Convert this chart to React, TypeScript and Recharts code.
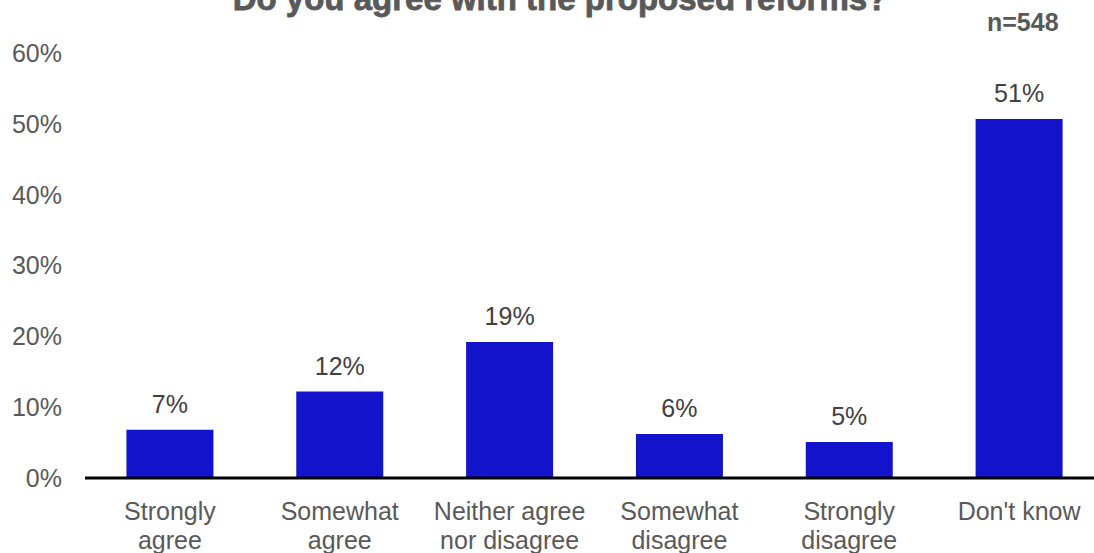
import React from "react";
import { BarChart, Bar, XAxis, YAxis, LabelList } from "recharts";

const categories = [
  "Strongly\nagree",
  "Somewhat\nagree",
  "Neither agree\nnor disagree",
  "Somewhat\ndisagree",
  "Strongly\ndisagree",
  "Don't know",
];
const shares = [6.8, 12.2, 19.2, 6.2, 5.1, 50.7];
const yTicks = [0, 10, 20, 30, 40, 50, 60];

const title = "Do you agree with the proposed reforms?";
const sampleNote = "n=548";

const rows = categories.map((name, i) => ({ name, value: shares[i] }));

const FONT = "'Liberation Sans', Arial, sans-serif";

function CategoryTick(props: any) {
  const { x, y, payload } = props;
  const lines = String(payload.value).split("\n");
  return (
    <text x={x} y={y} textAnchor="middle" fill="#595959" fontSize={25} fontFamily={FONT}>
      {lines.map((line, i) => (
        <tspan key={i} x={x} y={y + 34 + i * 29}>
          {line}
        </tspan>
      ))}
    </text>
  );
}

export default function App() {
  return (
    <div style={{ position: "relative", width: 1094, height: 553, background: "#fff", overflow: "hidden" }}>
      <style>{"body{margin:0}"}</style>
      <BarChart
        width={1094}
        height={553}
        data={rows}
        margin={{ top: 53, right: -10, bottom: 0, left: 0 }}
        barCategoryGap="24.4%"
      >
        <YAxis
          width={85}
          domain={[0, 60]}
          ticks={yTicks}
          tickFormatter={(v: number) => `${v}%`}
          axisLine={false}
          tickLine={false}
          tickSize={0}
          tickMargin={23}
          tick={{ fill: "#595959", fontSize: 25, fontFamily: FONT }}
        />
        <XAxis
          dataKey="name"
          height={75}
          axisLine={{ stroke: "#000", strokeWidth: 3 }}
          tickLine={false}
          interval={0}
          tick={<CategoryTick />}
        />
        <Bar dataKey="value" fill="#1313CC" isAnimationActive={false}>
          <LabelList
            dataKey="value"
            position="top"
            offset={17}
            formatter={(v: any) => `${Math.round(Number(v))}%`}
            style={{ fill: "#404040", fontSize: 25, fontFamily: FONT }}
          />
        </Bar>
      </BarChart>
      <svg
        width={1094}
        height={553}
        style={{ position: "absolute", left: 0, top: 0, pointerEvents: "none" }}
      >
        <text
          x={560}
          y={10}
          textAnchor="middle"
          fill="#595959"
          stroke="#595959"
          strokeWidth={0.8}
          fontSize={33}
          fontWeight="bold"
          fontFamily={FONT}
        >
          {title}
        </text>
        <text x={987} y={31} fill="#595959" fontSize={25} fontWeight="bold" fontFamily={FONT}>
          {sampleNote}
        </text>
      </svg>
    </div>
  );
}
